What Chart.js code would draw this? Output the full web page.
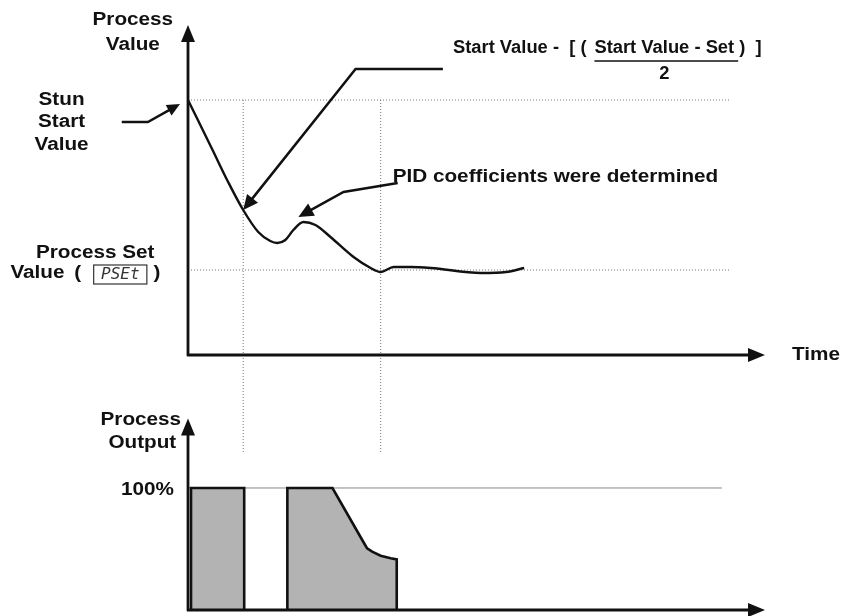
<!DOCTYPE html>
<html>
<head>
<meta charset="utf-8">
<title>Process value and output during tuning</title>
<script src="https://cdn.jsdelivr.net/npm/chart.js@4/dist/chart.umd.min.js"></script>
<style>
  html, body { margin: 0; padding: 0; background: #fff; }
  #chart { display: block; }
</style>
</head>
<body>
<canvas id="chart" width="842" height="616"></canvas>
<script>
// time base shared by both panels (diagram units, 0 = tuning start)
const timeMax = 115;

// process value curve (top panel)
const pvTime  = [0, 4.8, 8, 11, 14, 16.4, 17.8, 19.4, 21, 23, 25.4, 28.4, 33, 36.4, 38.4, 41, 44.4, 48.4, 58.4, 63.4, 67];
const pvValue = [255, 206, 173, 145, 123, 114, 112, 115, 125, 133, 130, 118, 98, 87, 83, 88, 88, 87, 82, 83, 87];

// reference levels of the top panel
const startValue = 255;
const setValue = 85;
const refLineEnd = 108;

// moments marked with dotted verticals (they run down into the output panel)
const markTimes = [11, 38.4];
const markBottom = -98;

// process output (bottom panel), %
const out1Time  = [0.6, 0.6, 11.2, 11.2];
const out1Value = [0, 100, 100, 0];
const out2Time  = [19.8, 19.8, 28.8, 35.1, 35.7, 36.7, 38.4, 40.4, 41.6, 41.6];
const out2Value = [0, 100, 100, 54.7, 50.5, 47.8, 44.5, 42.4, 41.5, 0];
const fullOutput = 100;
const fullLineEnd = 106.4;

const FONT = 'bold 18px "Liberation Sans", Arial, sans-serif';
const STRETCH = 1.15;

function pts(xs, ys) {
    return xs.map(function (x, i) { return { x: x, y: ys[i] }; });
}

function refLine(y0, x1) {
    return [{ x: 0, y: y0 }, { x: x1, y: y0 }];
}

function label(ctx, str, x, y, align, stretch) {
    const s = stretch || STRETCH;
    ctx.save();
    ctx.translate(x, y);
    ctx.scale(s, 1);
    ctx.textAlign = align || 'left';
    ctx.fillText(str, 0, 0);
    ctx.restore();
    return ctx.measureText(str).width * s;
}

function arrow(ctx, p, len, hw) {
    const n = p.length;
    const tip = p[n - 1], prev = p[n - 2];
    const a = Math.atan2(tip[1] - prev[1], tip[0] - prev[0]);
    const bx = tip[0] - Math.cos(a) * len * 0.8;
    const by = tip[1] - Math.sin(a) * len * 0.8;
    ctx.beginPath();
    ctx.moveTo(p[0][0], p[0][1]);
    for (let i = 1; i < n - 1; i++) ctx.lineTo(p[i][0], p[i][1]);
    ctx.lineTo(bx, by);
    ctx.stroke();
    ctx.beginPath();
    ctx.moveTo(tip[0], tip[1]);
    ctx.lineTo(tip[0] - Math.cos(a) * len + Math.sin(a) * hw, tip[1] - Math.sin(a) * len - Math.cos(a) * hw);
    ctx.lineTo(tip[0] - Math.cos(a) * len - Math.sin(a) * hw, tip[1] - Math.sin(a) * len + Math.cos(a) * hw);
    ctx.closePath();
    ctx.fill();
}

const diagram = {
    id: 'diagram',
    afterDatasetsDraw(chart) {
        const ctx = chart.ctx;
        const X = t => chart.scales.x.getPixelForValue(t);
        const V = v => chart.scales.y.getPixelForValue(v);
        const O = o => chart.scales.yOut.getPixelForValue(o);
        ctx.save();
        ctx.strokeStyle = '#111';
        ctx.fillStyle = '#111';
        ctx.lineJoin = 'miter';

        // axes with arrow heads
        ctx.lineWidth = 2.8;
        arrow(ctx, [[X(0), V(0) + 1], [X(0), V(330)]], 17, 7);
        arrow(ctx, [[X(0) - 1, V(0)], [X(timeMax), V(0)]], 17, 7);
        arrow(ctx, [[X(0), O(0) + 1], [X(0), O(157)]], 17, 7);
        arrow(ctx, [[X(0) - 1, O(0)], [X(timeMax), O(0)]], 17, 7);

        // annotation arrows
        ctx.lineWidth = 2.5;
        arrow(ctx, [[X(-13.2), V(233)], [X(-8), V(233)], [X(-1.6), V(251)]], 13, 6);
        arrow(ctx, [[X(50.8), V(286)], [X(33.4), V(286)], [X(11), V(145)]], 15, 7);
        arrow(ctx, [[X(41.8), V(172)], [X(31), V(163)], [X(22), V(138)]], 15, 7);

        // labels
        ctx.font = FONT;
        ctx.textBaseline = 'middle';
        label(ctx, 'Process', X(-11), V(335), 'center');
        label(ctx, 'Value', X(-11), V(310), 'center');
        label(ctx, 'Stun', X(-25.2), V(255), 'center');
        label(ctx, 'Start', X(-25.2), V(233), 'center');
        label(ctx, 'Value', X(-25.2), V(210), 'center');
        label(ctx, 'Process Set', X(-18.5), V(102), 'center');
        label(ctx, 'Value', X(-35.4), V(82), 'left');
        label(ctx, '(', X(-22), V(82), 'center');
        label(ctx, ')', X(-6.2), V(82), 'center');
        label(ctx, 'Time', X(120.4), V(0), 'left');
        label(ctx, 'Process', X(-9.4), O(155.7), 'center');
        label(ctx, 'Output', X(-9.1), O(136.9), 'center');
        label(ctx, '100%', X(-8.1), O(98), 'center');
        label(ctx, 'PID coefficients were determined', X(40.8), V(178), 'left');

        // formula
        label(ctx, 'Start Value -  [ (', X(52.8), V(307), 'left', 1.02);
        const x2 = X(81);
        const w2 = label(ctx, 'Start Value - Set', x2, V(307), 'left', 1.02);
        label(ctx, ')  ]', x2 + w2 + 5, V(307), 'left', 1.02);
        ctx.lineWidth = 1.6;
        ctx.beginPath();
        ctx.moveTo(x2, V(294));
        ctx.lineTo(x2 + w2 + 4, V(294));
        ctx.stroke();
        label(ctx, '2', x2 + w2 / 2, V(281), 'center', 1.02);

        // PSEt display box
        ctx.lineWidth = 1.2;
        ctx.strokeStyle = '#333';
        ctx.strokeRect(X(-18.8), V(90), X(-8.2) - X(-18.8), V(71) - V(90));
        ctx.font = 'oblique 16px "DejaVu Sans Mono", monospace';
        ctx.fillStyle = '#333';
        ctx.textAlign = 'center';
        ctx.fillText('PSEt', (X(-18.8) + X(-8.2)) / 2, V(80.5));
        ctx.restore();
    }
};

const dotted = { borderColor: '#777', borderWidth: 1, borderDash: [1, 2], tension: 0, fill: false, yAxisID: 'y', order: 6 };

const datasets = [
    Object.assign({ data: refLine(startValue, refLineEnd) }, dotted),
    Object.assign({ data: refLine(setValue, refLineEnd) }, dotted)
];
markTimes.forEach(function (t) {
    datasets.push(Object.assign({ data: [{ x: t, y: startValue }, { x: t, y: markBottom }] }, dotted));
});
datasets.push({
    data: refLine(fullOutput, fullLineEnd),
    yAxisID: 'yOut', borderColor: '#888', borderWidth: 1, fill: false, order: 5
});
datasets.push({
    data: pts(out1Time, out1Value),
    yAxisID: 'yOut', borderColor: '#111', borderWidth: 2.6, backgroundColor: '#b3b3b3',
    fill: 'origin', tension: 0, order: 2
});
datasets.push({
    data: pts(out2Time, out2Value),
    yAxisID: 'yOut', borderColor: '#111', borderWidth: 2.6, backgroundColor: '#b3b3b3',
    fill: 'origin', tension: 0, order: 2
});
datasets.push({
    data: pts(pvTime, pvValue),
    yAxisID: 'y', borderColor: '#111', borderWidth: 2.4, fill: false,
    tension: 0.4, cubicInterpolationMode: 'monotone', order: 1
});

new Chart(document.getElementById('chart'), {
    type: 'line',
    data: { datasets: datasets },
    options: {
        responsive: false,
        animation: false,
        events: [],
        layout: { padding: { left: 188, right: 77, top: 25, bottom: 6 } },
        elements: { point: { radius: 0 }, line: { borderCapStyle: 'butt', borderJoinStyle: 'miter' } },
        plugins: { legend: { display: false }, tooltip: { enabled: false } },
        scales: {
            x: { type: 'linear', min: 0, max: timeMax, display: false },
            y: { min: -255, max: 330, display: false },
            yOut: { min: 0, max: 479.5, display: false }
        }
    },
    plugins: [diagram]
});
</script>
</body>
</html>
